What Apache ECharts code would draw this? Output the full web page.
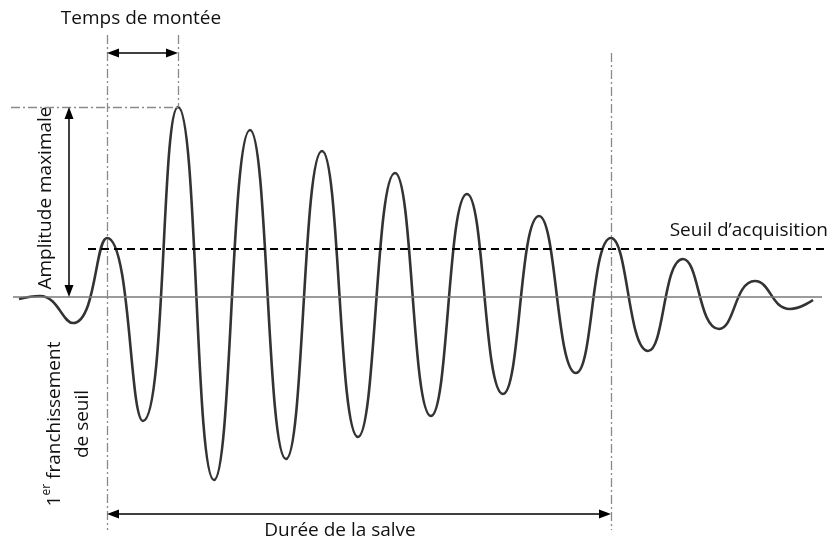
<!DOCTYPE html>
<html>
<head>
<meta charset="utf-8">
<script src="https://cdn.jsdelivr.net/npm/echarts@6/dist/echarts.min.js"></script>
<style>html,body{margin:0;padding:0;background:#fff}#c{width:829px;height:542px}</style>
</head>
<body>
<div id="c"></div>
<script>
// Waveform extrema: time position (px-like units) and amplitude (above baseline)
const waveTime = [19, 40, 73, 107, 143, 178, 214, 250, 286, 322, 358, 395, 431, 467, 503, 539, 576, 611, 648, 683, 719, 755, 790, 813];
const waveAmp  = [-2, 1, -26, 59, -124, 190, -183, 167, -162, 146, -140, 124, -119, 103, -97, 81, -76, 59, -54, 38, -32, 16, -12, -3];

// Annotation reference values
const thresholdAmp = 48;        // seuil d'acquisition
const firstCrossT = 107;        // 1er franchissement
const peakT = 178;              // pic
const peakAmp = 190;            // amplitude maximale
const lastCrossT = 611;         // fin de salve
const baseStartT = 13, baseEndT = 822;
const thrStartT = 88, thrEndT = 829;
const guideTop = 262, guideBottom = -233, guideTopRight = 244;
const riseArrowAmp = 244;
const durArrowAmp = -217;
const ampArrowT = 69;
const peakGuideStartT = 11;

const waveData = waveTime.map((t, i) => [t, waveAmp[i]]);

const dashDot = { color: '#8a8a8a', width: 1.3, type: [9, 3, 2, 3] };
const arrowStyle = { color: '#000', width: 1.5, type: 'solid' };

const chart = echarts.init(document.getElementById('c'), null, { renderer: 'canvas' });
const font = '"Open Sans", sans-serif';

chart.setOption({
  animation: false,
  backgroundColor: '#fff',
  grid: { left: 0, right: 0, top: 0, bottom: 0 },
  xAxis: { type: 'value', min: 0, max: 829, show: false },
  yAxis: { type: 'value', min: -245, max: 297, show: false },
  series: [
    {
      type: 'line',
      data: [],
      silent: true,
      markLine: {
        silent: true,
        symbol: ['none', 'none'],
        label: { show: false },
        data: [
          [{ coord: [baseStartT, 0], lineStyle: { color: '#7a7a7a', width: 1.5, type: 'solid' } }, { coord: [baseEndT, 0] }],
          [{ coord: [thrStartT, thresholdAmp], lineStyle: { color: '#000', width: 1.8, type: [8, 5] } }, { coord: [thrEndT, thresholdAmp] }],
          [{ coord: [firstCrossT, guideTop], lineStyle: dashDot }, { coord: [firstCrossT, guideBottom] }],
          [{ coord: [peakT, guideTop], lineStyle: dashDot }, { coord: [peakT, peakAmp] }],
          [{ coord: [lastCrossT, guideTopRight], lineStyle: dashDot }, { coord: [lastCrossT, guideBottom] }],
          [{ coord: [peakGuideStartT, peakAmp], lineStyle: dashDot }, { coord: [peakT, peakAmp] }]
        ]
      }
    },
    {
      type: 'line',
      data: waveData,
      smooth: 0.5,
      showSymbol: false,
      silent: true,
      lineStyle: { color: '#333', width: 2.6 },
      z: 3
    },
    {
      type: 'line',
      data: [],
      silent: true,
      z: 4,
      markLine: {
        silent: true,
        symbol: ['triangle', 'triangle'],
        symbolSize: [9, 12],
        label: { show: false },
        lineStyle: arrowStyle,
        data: [
          [{ coord: [firstCrossT + 6, riseArrowAmp] }, { coord: [peakT - 6, riseArrowAmp] }],
          [{ coord: [firstCrossT + 6, durArrowAmp] }, { coord: [lastCrossT - 6, durArrowAmp] }],
          [{ coord: [ampArrowT, peakAmp - 6] }, { coord: [ampArrowT, 6] }]
        ]
      }
    }
  ],
  graphic: [
    { type: 'text', x: 141, y: 19, silent: true, style: { text: 'Temps de montée', font: '19px ' + font, fill: '#111', align: 'center', verticalAlign: 'middle' } },
    { type: 'text', x: 828, y: 231, silent: true, style: { text: 'Seuil d’acquisition', font: '19px ' + font, fill: '#111', align: 'right', verticalAlign: 'middle' } },
    { type: 'text', x: 340, y: 531, silent: true, style: { text: 'Durée de la salve', font: '19px ' + font, fill: '#111', align: 'center', verticalAlign: 'middle' } },
    { type: 'text', x: 46, y: 198, rotation: Math.PI / 2, silent: true, style: { text: 'Amplitude maximale', font: '19px ' + font, fill: '#111', align: 'center', verticalAlign: 'middle' } },
    { type: 'text', x: 69, y: 424, rotation: Math.PI / 2, silent: true, style: {
        text: '{n|1}{s|er}{n| franchissement}\n{n|de seuil}',
        align: 'center', verticalAlign: 'middle', fill: '#111',
        rich: {
          n: { font: '19px ' + font, fill: '#111', lineHeight: 28 },
          s: { font: '12px ' + font, fill: '#111', verticalAlign: 'top', lineHeight: 28 }
        }
      } }
  ]
});
</script>
</body>
</html>
